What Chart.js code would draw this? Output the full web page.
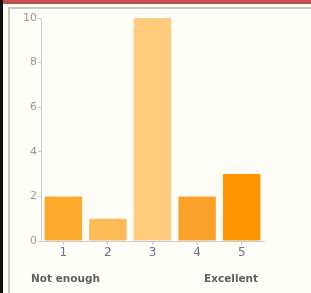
<!DOCTYPE html>
<html>
<head>
<meta charset="utf-8">
<script src="https://cdn.jsdelivr.net/npm/chart.js@4"></script>
<style>
  html, body { margin: 0; padding: 0; width: 311px; height: 293px; overflow: hidden; background: #fffef6; }
  .top-strip { position: absolute; left: 0; top: 0; width: 311px; height: 4px; background: #c0504d; }
  .left-edge { position: absolute; left: 0; top: 0; width: 3px; height: 293px; background: #111; }
  .frame { position: absolute; left: 8px; top: 7px; width: 310px; height: 290px; border-left: 2px solid #c9c9c2; border-top: 2px solid #c9c9c2; background: #fffef8; }
  #wrap { position: absolute; left: 0; top: 0; width: 311px; height: 293px; }
  .end-label { position: absolute; top: 272px; font: bold 10.5px "DejaVu Sans", sans-serif; color: #606060; }
</style>
</head>
<body>
<div class="top-strip"></div>
<div class="left-edge"></div>
<div class="frame"></div>
<div id="wrap"><canvas id="grafico" width="311" height="293"></canvas></div>
<div class="end-label" style="left:31px">Not enough</div>
<div class="end-label" style="left:204px">Excellent</div>
<script>
// Dados
const categorias = ['1', '2', '3', '4', '5'];
const valores = [2, 1, 10, 2, 3];
const coresBarras = ['#fbaa2e', '#fdbb55', '#ffcb7c', '#fba028', '#ff9500'];
const marcasY = [0, 2, 4, 6, 8, 10];

const ctx = document.getElementById('grafico');
new Chart(ctx, {
    type: 'bar',
    data: {
        labels: categorias,
        datasets: [{
            data: valores,
            backgroundColor: coresBarras,
            borderWidth: 0,
            barPercentage: 0.84,
            categoryPercentage: 1
        }]
    },
    options: {
        responsive: false,
        animation: false,
        layout: { padding: { top: 18, right: 47, bottom: 0, left: 0 } },
        plugins: { legend: { display: false }, tooltip: { enabled: false } },
        scales: {
            x: {
                afterFit: s => { s.height = 52; },
                grid: { display: true, drawOnChartArea: false, offset: false, tickLength: 4, color: '#c4ccd8' },
                border: { color: '#c4ccd8', width: 1 },
                ticks: { color: '#6b7090', font: { family: 'DejaVu Sans', size: 12 }, padding: 1 }
            },
            y: {
                min: 0,
                max: 10,
                afterFit: s => { s.width = 41; },
                afterBuildTicks: s => { s.ticks = marcasY.map(v => ({ value: v })); },
                grid: { display: true, drawOnChartArea: false, tickLength: 3, color: '#c4ccd8' },
                border: { color: '#c4ccd8', width: 1 },
                ticks: { color: '#999999', font: { family: 'DejaVu Sans', size: 11 }, padding: 1 }
            }
        }
    }
});
</script>
</body>
</html>
